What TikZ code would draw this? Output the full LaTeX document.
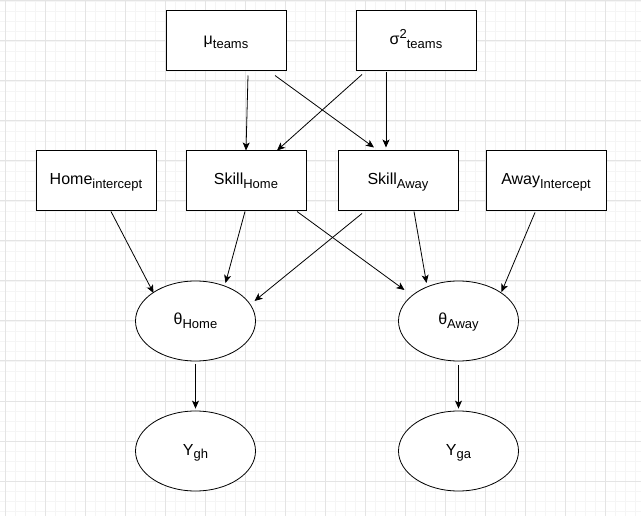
\documentclass[tikz,border=0pt]{standalone}
\usepackage{fontspec}
\setmainfont{Liberation Sans}
\usetikzlibrary{shapes.geometric,arrows.meta}
\newcommand{\sbs}[1]{{\fontsize{13}{13}\selectfont\raisebox{-3.5pt}{#1}}}
\newcommand{\sps}[1]{{\fontsize{13}{13}\selectfont\raisebox{6pt}{#1}}}
\definecolor{gridmajor}{RGB}{228,228,228}
\definecolor{gridminor}{RGB}{245,245,245}
\begin{document}
\begin{tikzpicture}[x=1pt,y=-1pt,
  box/.style={draw,fill=white,line width=1pt,minimum width=120pt,minimum height=60pt,inner sep=0pt,text height=11.5pt,text depth=3.5pt},
  ell/.style={ellipse,draw,fill=white,line width=0.8pt,minimum width=120pt,minimum height=80pt,inner sep=0pt,text height=11.5pt,text depth=3.5pt},
  arr/.style={-{Stealth[length=8pt,width=7pt,inset=2pt]},line width=0.8pt},
  minorline/.style={draw=gridminor,line width=0.8pt},
  majorline/.style={draw=gridmajor,line width=1pt},
  every node/.style={font=\fontsize{16}{19}\selectfont}]
\useasboundingbox (0,0) rectangle (641,516);
\fill[white] (0,0) rectangle (641,516);
\foreach \x in {5,15,...,640} \draw[minorline] (\x,0) -- (\x,516);
\foreach \y in {1,11,...,516} \draw[minorline] (0,\y) -- (641,\y);
\foreach \x in {5,45,...,640} \draw[majorline] (\x,0) -- (\x,516);
\foreach \y in {1,41,...,516} \draw[majorline] (0,\y) -- (641,\y);

\node[box] (mu) at (226,41) {μ\sbs{teams}};
\node[box] (sig) at (416,41) {σ\sps{2}\sbs{teams}};
\node[box] (hi) at (96,181) {Home\sbs{intercept}};
\node[box] (skh) at (246,181) {Skill\sbs{Home}};
\node[box] (ska) at (398,181) {Skill\sbs{Away}};
\node[box] (ai) at (546,181) {Away\sbs{Intercept}};
\node[ell] (th) at (195.5,321) {θ\sbs{Home}};
\node[ell] (ta) at (458.5,321) {θ\sbs{Away}};
\node[ell] (ygh) at (195.5,451) {Y\sbs{gh}};
\node[ell] (yga) at (458.5,451) {Y\sbs{ga}};

\draw[arr] ([shift={(22,4)}]mu.south) -- (skh.north);
\draw[arr] ([shift={(49,4)}]mu.south) -- ([shift={(-24,-3)}]ska.north);
\draw[arr] ([shift={(-54,3)}]sig.south) -- ([shift={(31,0)}]skh.north);
\draw[arr] ([shift={(-30,1)}]sig.south) -- ([shift={(-12,-3)}]ska.north);

\draw[arr] ([shift={(15,0)}]hi.south) -- ([shift={(-42,-28)}]th.center);
\draw[arr] ([shift={(-1,0)}]skh.south) -- ([shift={(30,-38)}]th.center);
\draw[arr] ([shift={(-36,2)}]ska.south) -- ([shift={(59,-20)}]th.center);
\draw[arr] ([shift={(51,0)}]skh.south) -- ([shift={(-54,-31)}]ta.center);
\draw[arr] ([shift={(16,0)}]ska.south) -- ([shift={(-32,-38)}]ta.center);
\draw[arr] ([shift={(-11,1)}]ai.south) -- ([shift={(43,-29)}]ta.center);
\draw[arr] ([shift={(0,3)}]th.south) -- ([shift={(0,-2)}]ygh.north);
\draw[arr] ([shift={(0,4)}]ta.south) -- ([shift={(0,-2)}]yga.north);
\end{tikzpicture}
\end{document}
